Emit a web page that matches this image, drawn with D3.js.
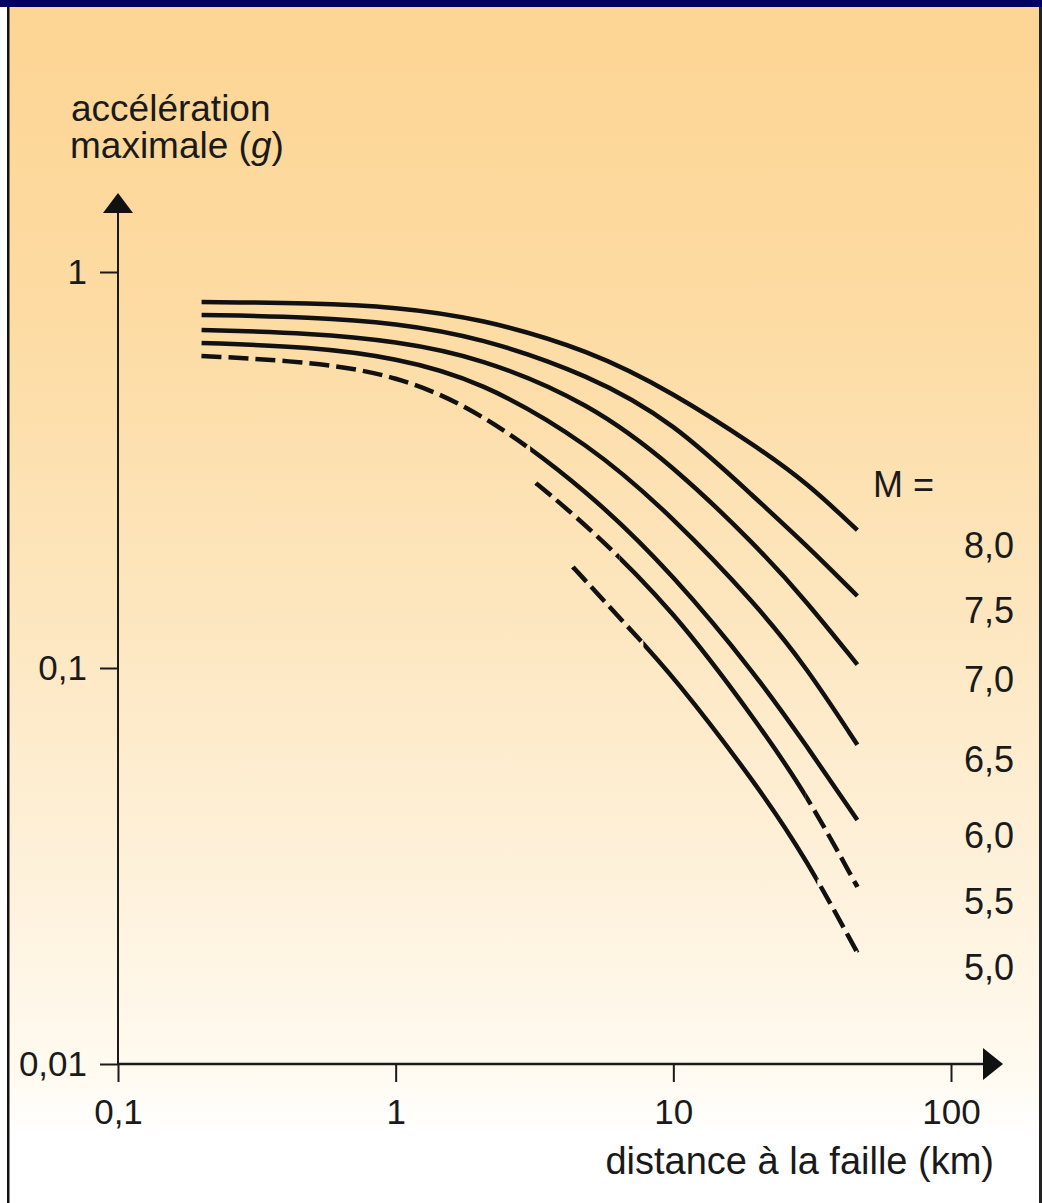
<!DOCTYPE html>
<html>
<head>
<meta charset="utf-8">
<script src="https://cdn.jsdelivr.net/npm/d3@7"></script>
<style>
  html, body { margin: 0; padding: 0; background: #fff; }
  svg { display: block; font-family: "Liberation Sans", Arial, sans-serif; }
</style>
</head>
<body>
<svg id="chart"></svg>
<script>
// Data: [distance (km), peak acceleration (g)]
const magnitudes = ["8,0", "7,5", "7,0", "6,5", "6,0", "5,5", "5,0"];
const curveM80 = [[0.2, 0.84], [0.5, 0.835], [1, 0.816], [2, 0.765], [5, 0.635], [10, 0.495], [20, 0.362], [30, 0.295], [46, 0.223]];
const curveM75 = [[0.2, 0.779], [0.5, 0.77], [1, 0.743], [2, 0.685], [5, 0.549], [10, 0.418], [20, 0.266], [30, 0.205], [46, 0.152]];
const curveM70 = [[0.2, 0.714], [0.5, 0.701], [1, 0.669], [2, 0.61], [5, 0.467], [10, 0.324], [20, 0.203], [30, 0.148], [46, 0.102]];
const curveM65 = [[0.2, 0.662], [0.5, 0.647], [1, 0.607], [2, 0.534], [5, 0.368], [10, 0.24], [20, 0.144], [30, 0.101], [46, 0.064]];
const curveM60 = [[0.2, 0.614], [0.5, 0.593], [1, 0.549], [2, 0.448], [5, 0.278], [10, 0.172], [20, 0.0955], [30, 0.064], [46, 0.0413]];
const curveM55 = [[3.2, 0.293], [5, 0.226], [10, 0.14], [20, 0.073], [30, 0.0483], [46, 0.028]];
const curveM50 = [[4.35, 0.18], [7, 0.125], [10, 0.0955], [20, 0.0507], [30, 0.0331], [46, 0.0191]];

// distance ranges drawn dashed (extrapolated parts)
const dashM60 = [[0.2, 3.05]];
const dashM55 = [[3.2, 6.4], [30, 46]];
const dashM50 = [[4.35, 7.8], [33, 46]];

const curves = [curveM80, curveM75, curveM70, curveM65, curveM60, curveM55, curveM50];
const dashes = [[], [], [], [], dashM60, dashM55, dashM50];

const xTicks = [0.1, 1, 10, 100];
const xTickLabels = ["0,1", "1", "10", "100"];
const yTicks = [1, 0.1, 0.01];
const yTickLabels = ["1", "0,1", "0,01"];

// Dimensions
const totalWidth = 1042;
const totalHeight = 1203;
const x0 = 118, x1 = 951;   // 0.1 km -> 100 km
const yTop = 272, yBottom = 1064; // 1 g -> 0.01 g

const svg = d3.select("#chart")
  .attr("width", totalWidth)
  .attr("height", totalHeight);

// background gradient
const defs = svg.append("defs");
const bg = defs.append("linearGradient")
  .attr("id", "bgGradient")
  .attr("x1", "0%").attr("y1", "0%")
  .attr("x2", "0%").attr("y2", "100%");
[["0%", "#fdd594"], ["25%", "#fddba2"], ["50%", "#fde6be"], ["72%", "#fef1da"], ["89%", "#fffaf0"], ["94%", "#ffffff"], ["100%", "#ffffff"]]
  .forEach(([o, c]) => bg.append("stop").attr("offset", o).attr("stop-color", c));

svg.append("rect").attr("width", totalWidth).attr("height", totalHeight).attr("fill", "#fff");
svg.append("rect")
  .attr("x", 9).attr("y", 7)
  .attr("width", totalWidth - 12).attr("height", totalHeight - 7)
  .attr("fill", "url(#bgGradient)");

// frame
svg.append("rect").attr("x", 0).attr("y", 0).attr("width", totalWidth).attr("height", 7).attr("fill", "#00005e");
svg.append("rect").attr("x", 7).attr("y", 7).attr("width", 2.5).attr("height", totalHeight - 7).attr("fill", "#111");
svg.append("rect").attr("x", 1039).attr("y", 7).attr("width", 3).attr("height", totalHeight - 7).attr("fill", "#222");

// scales
const xScale = d3.scaleLog().domain([0.1, 100]).range([x0, x1]);
const yScale = d3.scaleLog().domain([0.01, 1]).range([yBottom, yTop]);

// axes
const xAxis = svg.append("g")
  .attr("class", "x-axis")
  .attr("transform", "translate(0," + yBottom + ")")
  .call(d3.axisBottom(xScale)
    .tickValues(xTicks)
    .tickSize(18)
    .tickPadding(17)
    .tickFormat((d, i) => xTickLabels[i]));
xAxis.select(".domain").remove();

const yAxis = svg.append("g")
  .attr("class", "y-axis")
  .attr("transform", "translate(" + x0 + ",0)")
  .call(d3.axisLeft(yScale)
    .tickValues(yTicks)
    .tickSize(18)
    .tickPadding(13)
    .tickFormat((d, i) => yTickLabels[i]));
yAxis.select(".domain").remove();

svg.selectAll(".tick line").attr("stroke", "#1a1a1a").attr("stroke-width", 2);
svg.selectAll(".tick text")
  .attr("fill", "#1a1a1a")
  .style("font-size", "35px")
  .style("font-family", "'Liberation Sans', Arial, sans-serif");

// axis lines with arrows
svg.append("line")
  .attr("x1", x0).attr("y1", yBottom)
  .attr("x2", x0).attr("y2", 205)
  .attr("stroke", "#1a1a1a").attr("stroke-width", 2);
svg.append("path")
  .attr("d", d3.line()([[x0, 193], [x0 - 15, 213], [x0 + 15, 213]]) + "Z")
  .attr("fill", "#111");

svg.append("line")
  .attr("x1", x0).attr("y1", yBottom)
  .attr("x2", 990).attr("y2", yBottom)
  .attr("stroke", "#1a1a1a").attr("stroke-width", 2.5);
svg.append("path")
  .attr("d", d3.line()([[1003, yBottom], [983, yBottom - 16], [983, yBottom + 16]]) + "Z")
  .attr("fill", "#111");

// axis titles
svg.append("text")
  .attr("x", 71).attr("y", 121)
  .attr("fill", "#1a1a1a")
  .style("font-size", "37px")
  .text("accélération");
const yTitle2 = svg.append("text")
  .attr("x", 70).attr("y", 158)
  .attr("fill", "#1a1a1a")
  .style("font-size", "37px");
yTitle2.append("tspan").text("maximale (");
yTitle2.append("tspan").style("font-style", "italic").text("g");
yTitle2.append("tspan").text(")");

svg.append("text")
  .attr("x", 994).attr("y", 1174)
  .attr("text-anchor", "end")
  .attr("fill", "#1a1a1a")
  .style("font-size", "38px")
  .text("distance à la faille (km)");

// curves: each drawn whole, then clipped into solid and dashed x-ranges
const lineFunction = d3.line()
  .x((d) => xScale(d[0]))
  .y((d) => yScale(d[1]))
  .curve(d3.curveBasis);

const addClip = (id, ranges) => {
  const clip = defs.append("clipPath").attr("id", id);
  ranges.forEach((r) => {
    clip.append("rect")
      .attr("x", xScale(r[0]))
      .attr("y", 0)
      .attr("width", xScale(r[1]) - xScale(r[0]))
      .attr("height", totalHeight);
  });
};

const graphLines = svg.append("g").attr("class", "graph-lines");
curves.forEach((points, index) => {
  const ranges = dashes[index];
  const start = points[0][0] * 0.9, end = points[points.length - 1][0] * 1.1;
  // solid ranges are the gaps between dashed ranges
  const cuts = [start];
  ranges.forEach((r) => cuts.push(r[0], r[1]));
  cuts.push(end);
  const solidRanges = [];
  for (let k = 0; k < cuts.length; k += 2) {
    if (cuts[k + 1] > cuts[k]) solidRanges.push([cuts[k], cuts[k + 1]]);
  }
  const dashRanges = ranges.map((r) => [
    r[0] === points[0][0] ? start : r[0],
    r[1] === points[points.length - 1][0] ? end : r[1],
  ]);
  const solidId = "solid-" + index, dashId = "dash-" + index;
  addClip(solidId, solidRanges);
  addClip(dashId, dashRanges);

  graphLines.append("path")
    .attr("d", lineFunction(points))
    .attr("clip-path", "url(#" + solidId + ")")
    .attr("fill", "none")
    .attr("stroke", "#111")
    .attr("stroke-width", 4.5);
  if (dashRanges.length) {
    graphLines.append("path")
      .attr("d", lineFunction(points))
      .attr("clip-path", "url(#" + dashId + ")")
      .attr("fill", "none")
      .attr("stroke", "#111")
      .attr("stroke-width", 4.5)
      .attr("stroke-dasharray", "20 7");
  }
});

// magnitude labels
const lastValue = (pts) => pts[pts.length - 1][1];
svg.append("text")
  .attr("x", 873)
  .attr("y", yScale(lastValue(curveM80)) - 46)
  .attr("dominant-baseline", "central")
  .attr("fill", "#1a1a1a")
  .style("font-size", "36px")
  .text("M =");

svg.append("g")
  .selectAll("text")
  .data(magnitudes)
  .enter()
  .append("text")
  .attr("x", 1014)
  .attr("y", (d, i) => yScale(lastValue(curves[i])) + 15)
  .attr("text-anchor", "end")
  .attr("dominant-baseline", "central")
  .attr("fill", "#1a1a1a")
  .style("font-size", "36px")
  .text((d) => d);
</script>
</body>
</html>
